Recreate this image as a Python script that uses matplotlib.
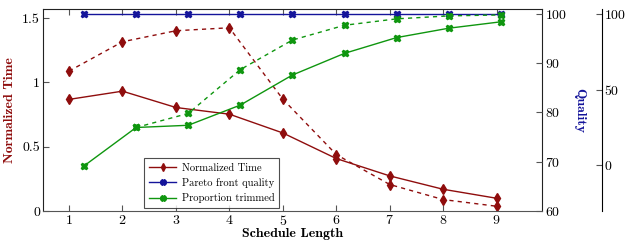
import numpy as np
import matplotlib
matplotlib.use("Agg")
import matplotlib.pyplot as plt
from matplotlib.lines import Line2D

plt.rcParams["font.family"] = ["cmr10", "DejaVu Serif"]
plt.rcParams["axes.formatter.use_mathtext"] = True
plt.rcParams["font.size"] = 10

# schedule lengths
x = [1, 2, 3, 4, 5, 6, 7, 8, 9]
# normalized time (left axis), solid and dashed runs
time_solid = [0.868, 0.932, 0.805, 0.753, 0.607, 0.408, 0.273, 0.169, 0.099]
time_dashed = [1.088, 1.316, 1.402, 1.425, 0.870, 0.439, 0.206, 0.089, 0.037]
# pareto front quality (right axis)
quality = [100, 100, 100, 100, 100, 100, 100, 100, 100]
# proportion trimmed (right axis)
trimmed_solid = [69.15, 76.95, 77.4, 81.5, 87.6, 92.0, 95.2, 97.1, 98.4]
trimmed_dashed = [np.nan, 76.95, 79.8, 88.7, 94.7, 97.7, 99.0, 99.6, 99.8]

red = "#8f0d0d"
blue = "#14149a"
green = "#0f960f"
grey = "#555555"

fig = plt.figure(figsize=(6.26, 2.40), dpi=100)
pos = [0.0682, 0.1208, 0.7976, 0.8417]

ax = fig.add_axes(pos)
ax.plot(x, time_solid, color=red, marker="d", ms=5, lw=1)
ax.plot(x, time_dashed, color=red, marker="d", ms=5, lw=1, ls=(0, (3, 3)))
ax.set_xlim(0.508, 9.848)
ax.set_ylim(0, 1.571)
ax.set_xticks(x)
ax.set_yticks([0, 0.5, 1, 1.5])
ax.set_yticklabels(["0", "0.5", "1", "1.5"])
ax.tick_params(direction="in", length=4, color=grey, pad=2, labelsize=10,
               top=True)
ax.set_xlabel("Schedule Length", family="cmb10", fontsize=10, labelpad=0)
ax.set_ylabel("Normalized Time", family="cmb10", fontsize=10, color=red,
              labelpad=4)
for s in ax.spines.values():
    s.set_color("#222222")
    s.set_linewidth(0.8)
ax.spines["bottom"].set_color(grey)

# second axes, slightly different x scale
ax2 = fig.add_axes(pos)
ax2.patch.set_visible(False)
ax2.plot(x, quality, color=blue, marker="X", ms=5, lw=1)
ax2.plot(x, trimmed_solid, color=green, marker="X", ms=5, lw=1)
ax2.plot(x, trimmed_dashed, color=green, marker="X", ms=5, lw=1,
         ls=(0, (3, 3)))
ax2.set_xlim(0.207, 9.79)
ax2.set_ylim(60, 101.0)
ax2.xaxis.set_visible(False)
ax2.yaxis.tick_right()
ax2.yaxis.set_label_position("right")
ax2.set_yticks([60, 70, 80, 90, 100])
ax2.tick_params(direction="in", length=4, color=grey, pad=2, labelsize=10)
ax2.set_ylabel("Quality", family="cmb10", fontsize=10, color=blue,
               rotation=270, labelpad=13)
for s in ax2.spines.values():
    s.set_visible(False)

# third, offset axis
ax3 = fig.add_axes(pos)
ax3.patch.set_visible(False)
ax3.xaxis.set_visible(False)
for name, s in ax3.spines.items():
    s.set_visible(name == "right")
ax3.spines["right"].set_position(("axes", 1.12))
ax3.spines["right"].set_linewidth(0.8)
ax3.yaxis.tick_right()
ax3.set_ylim(-30.3, 103.3)
ax3.set_yticks([0, 50, 100])
ax3.tick_params(direction="in", length=4, color=grey, pad=1.5, labelsize=10)

handles = [
    Line2D([], [], color=red, marker="d", ms=4, lw=1),
    Line2D([], [], color=blue, marker="X", ms=4, lw=1),
    Line2D([], [], color=green, marker="X", ms=4, lw=1),
]
labels = ["Normalized Time", "Pareto front quality", "Proportion trimmed"]
leg = ax3.legend(handles, labels, loc="lower left", bbox_to_anchor=(0.203, 0.015),
                 fontsize=7.6, frameon=True, fancybox=False, borderpad=0.45,
                 handlelength=2.6, handletextpad=0.5, labelspacing=0.5,
                 borderaxespad=0)
leg.get_frame().set_edgecolor("#222222")
leg.get_frame().set_linewidth(0.8)

fig.savefig("out.png", dpi=100)
